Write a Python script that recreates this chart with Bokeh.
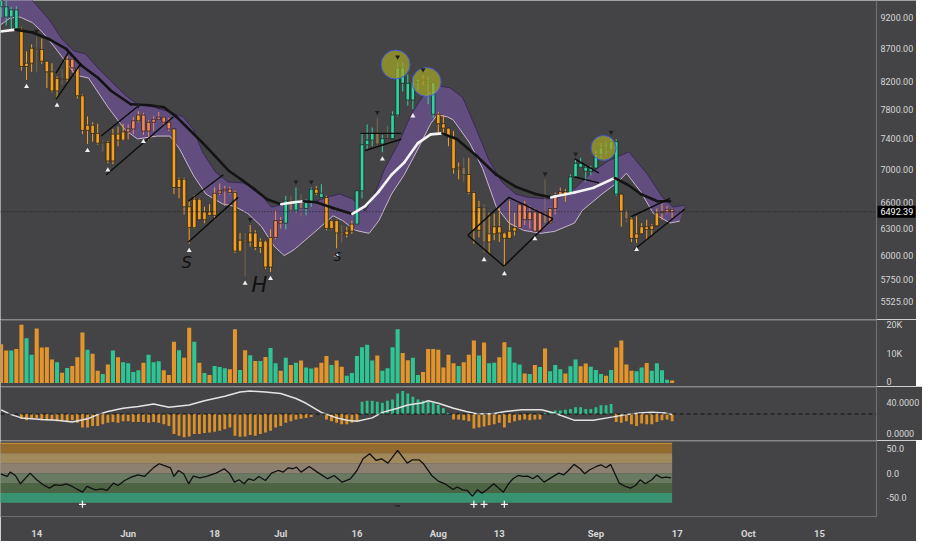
from bokeh.plotting import figure
from bokeh.layouts import column
from bokeh.models import Range1d, FixedTicker, Span
from bokeh.embed import file_html
from bokeh.resources import INLINE
from bokeh.core.properties import value

# ---------------- data ----------------
days = list(range(-7, 126))          # day index, 0 = 14 May 2018
opens = [9650, 9370, 9200, 9320, 9010, 8420, 8470, 8700, 8680, 8500, 8340, 8060, 8240, 8230, 8530, 8400, 7990, 7510, 7580, 7470,
         7340, 7350, 7110, 7460, 7380, 7490, 7530, 7640, 7720, 7500, 7620, 7660, 7690, 7620, 7530, 6780, 6880, 6550, 6310, 6640,
         6400, 6490, 6450, 6710, 6740, 6760, 6720, 6050, 6170, 6150, 6250, 6090, 6160, 5880, 6200, 6390, 6360, 6620, 6510, 6600,
         6530, 6600, 6760, 6710, 6660, 6300, 6390, 6250, 6230, 6270, 6350, 6740, 7320, 7380, 7470, 7330, 7400, 7400, 7720, 8400,
         8170, 7930, 8190, 8230, 8210, 8180, 7730, 7600, 7540, 7420, 7010, 7030, 6940, 6720, 6280, 6540, 6150, 6240, 6320, 6250,
         6190, 6270, 6310, 6580, 6400, 6490, 6270, 6480, 6360, 6530, 6690, 6730, 6700, 6910, 7080, 7030, 6980, 7020, 7190, 7280,
         7260, 7360, 6700, 6500, 6410, 6190, 6240, 6320, 6290, 6330, 6480, 6490, 6520]
highs = [9700, 9470, 9370, 9380, 9030, 8650, 8760, 8880, 8850, 8500, 8470, 8270, 8380, 8580, 8560, 8400, 8010, 7700, 7620, 7600,
         7380, 7370, 7530, 7560, 7600, 7590, 7690, 7770, 7750, 7650, 7700, 7760, 7700, 7680, 7530, 6900, 6900, 6630, 6690, 6650,
         6550, 6580, 6780, 6830, 6800, 6790, 6740, 6250, 6250, 6340, 6280, 6190, 6170, 6290, 6500, 6430, 6680, 6680, 6780, 6700,
         6640, 6780, 6800, 6820, 6680, 6400, 6400, 6340, 6320, 6390, 6740, 7480, 7590, 7550, 7680, 7450, 7570, 7770, 8480, 8480,
         8300, 8260, 8230, 8290, 8270, 8180, 7760, 7720, 7540, 7500, 7090, 7150, 7150, 6730, 6620, 6580, 6480, 6470, 6540, 6260,
         6620, 6480, 6580, 6620, 6560, 6530, 6500, 6880, 6540, 6720, 6780, 6760, 6940, 7130, 7150, 7050, 7050, 7240, 7340, 7350,
         7410, 7390, 6700, 6520, 6440, 6440, 6360, 6400, 6350, 6530, 6590, 6560, 6530]
lows = [9200, 9060, 8980, 9000, 8360, 8220, 8340, 8330, 8460, 8100, 8040, 7950, 8150, 8180, 8330, 7950, 7460, 7330, 7360, 7320,
        7230, 7080, 7070, 7300, 7370, 7390, 7460, 7620, 7450, 7380, 7500, 7650, 7570, 7500, 6700, 6650, 6460, 6130, 6300, 6400,
        6360, 6440, 6400, 6690, 6560, 6700, 6030, 6040, 5780, 6100, 6060, 6030, 5860, 5830, 6180, 6300, 6290, 6480, 6480, 6440,
        6450, 6550, 6690, 6650, 6280, 6290, 6080, 6140, 6200, 6240, 6340, 6650, 7250, 7300, 7280, 7220, 7380, 7400, 7700, 8050,
        7850, 7800, 8070, 8140, 7870, 7680, 7460, 7480, 7300, 6950, 6880, 6850, 6700, 6130, 6200, 6030, 6020, 6170, 6150, 5880,
        6190, 6220, 6300, 6340, 6300, 6260, 6270, 6300, 6350, 6460, 6680, 6610, 6690, 6900, 7020, 6850, 6930, 7020, 7140, 7200,
        7240, 6680, 6320, 6370, 6150, 6140, 6240, 6170, 6220, 6330, 6400, 6470, 6420]
closes = [9370, 9200, 9320, 9010, 8420, 8470, 8700, 8680, 8500, 8340, 8060, 8240, 8230, 8530, 8400, 7990, 7510, 7580, 7470, 7340,
          7350, 7110, 7460, 7380, 7490, 7530, 7640, 7720, 7500, 7620, 7660, 7690, 7620, 7530, 6780, 6880, 6550, 6310, 6640, 6400,
          6490, 6450, 6710, 6740, 6760, 6720, 6050, 6170, 6150, 6250, 6090, 6160, 5880, 6200, 6390, 6360, 6620, 6510, 6600, 6530,
          6600, 6760, 6710, 6660, 6300, 6390, 6250, 6230, 6270, 6350, 6740, 7320, 7380, 7470, 7330, 7400, 7400, 7720, 8400, 8170,
          7930, 8190, 8230, 8210, 8180, 7730, 7600, 7540, 7420, 7010, 7030, 6940, 6720, 6280, 6540, 6150, 6240, 6320, 6250, 6190,
          6270, 6310, 6580, 6400, 6490, 6270, 6480, 6360, 6530, 6690, 6730, 6700, 6910, 7080, 7030, 6980, 7020, 7190, 7280, 7260,
          7360, 6700, 6500, 6410, 6190, 6240, 6320, 6290, 6330, 6480, 6490, 6520, 6492.39]
# candle colour state: g = bull, o = bear, s = neutral, d = faded
regime = ("gggg" + "ooodoooodosooooodoooo" + "ssossssss" + "ooooooooo" + "sss" + "oodooooo" + "ss" + "gdgdggog"
          + "ooodoo" + "ggggdgdggggggogg" + "ooooodooodoooooo" + "sssssdssso" + "gggggggggg" + "odoooooosss")
volume_k = [13.4, 11.2, 11.2, 11.8, 20.2, 15.5, 9.8, 18.9, 12.3, 12.4, 8.1, 7.2, 3.5, 5.2, 5.9, 8.9, 17.5, 11.5, 10.1, 4.2,
            3.1, 6.4, 11.2, 8.9, 7.2, 6.8, 3.8, 4.4, 7.0, 9.8, 7.2, 7.5, 4.4, 2.7, 14.3, 11.3, 8.7, 19.1, 14.3, 7.0,
            3.4, 2.7, 5.9, 5.5, 5.1, 4.7, 18.6, 4.5, 11.3, 9.6, 7.6, 7.6, 9.0, 12.1, 6.8, 4.2, 8.7, 6.2, 7.0, 7.8,
            5.3, 5.0, 5.3, 7.0, 9.3, 6.2, 7.8, 5.6, 2.5, 3.4, 9.3, 12.4, 13.2, 7.8, 9.5, 4.2, 5.1, 12.4, 18.6, 10.4,
            7.9, 8.7, 2.7, 3.8, 11.8, 11.8, 11.5, 5.3, 9.8, 6.8, 5.9, 7.2, 9.8, 14.7, 9.5, 14.0, 6.8, 7.0, 8.9, 14.1,
            12.4, 7.0, 6.4, 3.3, 3.1, 6.2, 5.5, 11.9, 4.0, 6.2, 4.7, 3.3, 5.8, 8.1, 5.8, 6.7, 5.6, 4.5, 3.1, 2.5,
            4.5, 12.3, 14.7, 6.4, 4.2, 4.0, 5.3, 6.9, 4.2, 6.8, 4.4, 1.1, 0.8]
osc_hist = [25, 25, 25, 25, 18.8, 17.1, 18.8, 20, 17.1, 17.1, 17.1, 15.8, 15.8, 15.8, 17.1, 13.8, 7.5, 7.5, 9.6, 9.6,
            11.7, 13.8, 14.6, 13.8, 15.8, 15.8, 14.6, 14.6, 14.6, 13.8, 14.6, 13.8, 11.7, 9.6, -0.8, -2.9, -5, -3.8, -0.8, -0.8,
            0.4, 1.3, 2.1, 3.3, 5.4, 7.5, -2.9, -4.2, -3.8, -2.1, -2.9, -0.8, 1.3, 3.3, 7.5, 9.6, 13.8, 15.8, 17.9, 18.8,
            20, 21.3, 25, 25, 17.9, 15.8, 13.8, 11.7, 11.7, 13.8, 15.8, 40.8, 42.1, 42.1, 40.8, 39.6, 42.1, 43.8, 51.3, 54.6,
            51.3, 47.1, 43.8, 42.1, 40.8, 39.6, 36.7, 32.5, 26.3, 17.9, 17.9, 17.1, 15.8, 6.3, 7.5, 8.8, 10.4, 11.7, 13.8, 7.5,
            13.8, 15.8, 17.1, 17.9, 17.1, 17.9, 17.9, 26, 27.1, 29.6, 29.6, 30.4, 31.3, 33.8, 33.8, 31.3, 31.3, 33.8, 36.3, 36.3,
            37.9, 14.6, 13.8, 15.8, 11.7, 9.6, 12.9, 11.7, 11.7, 14.6, 17.1, 17.9, 15.8]
osc_base = 25
osc_day = [-7, -5, -3, 1, 4, 7, 10, 12, 14, 17, 20, 23, 26, 30, 33, 37, 40, 42, 45, 48, 51, 53, 56, 59, 61, 63, 66, 68, 71, 73,
           76, 77, 79, 82, 84.5, 86.5, 89.7, 92.2, 95.4, 99.3, 101.8, 105.7, 109.5, 113.4, 115.9, 118.5, 121, 123.6, 125]
osc_line = [30.4, 24.2, 20, 17.9, 17.1, 14.6, 18.8, 24.2, 28.3, 32.5, 34.6, 37.9, 33.8, 36.7, 42.1, 47.9, 53.3, 54.6, 53.3, 51.3,
            45, 38.8, 27.1, 20, 17.1, 15.8, 20, 27.1, 32.5, 36.7, 39.6, 42.1, 38.8, 32.5, 28.3, 25.4, 25.4, 28.3, 30.4, 30.4,
            26.3, 17.1, 17.1, 21.3, 24.2, 26.3, 27.1, 26.3, 24.2]
cci_day = [-7.1, -5.8, -5.2, -4.2, -3.2, -1.3, 0.0, 1.2, 2.5, 3.5, 4.8, 5.8, 7.0, 9.0, 9.9, 11.5, 12.8, 13.8, 15.1, 16.0,
           17.3, 18.6, 19.9, 21.2, 23.1, 24.1, 25.0, 26.3, 27.0, 27.9, 28.9, 29.9, 30.8, 32.1, 33.4, 35.3, 36.9, 37.9, 38.9, 39.8,
           40.8, 41.7, 42.7, 43.7, 45.0, 46.2, 47.5, 48.5, 49.5, 50.4, 51.1, 52.0, 53.6, 55.2, 57.2, 58.5, 60.1, 61.7, 63.0, 64.2,
           65.5, 66.8, 67.8, 69.1, 70.0, 71.0, 72.0, 72.9, 73.9, 75.2, 76.1, 77.7, 79.0, 80.3, 81.9, 82.7, 83.8, 84.7, 85.7, 86.7,
           87.6, 88.6, 89.9, 90.8, 91.8, 92.8, 93.7, 94.7, 95.6, 96.6, 97.6, 98.5, 99.8, 101.7, 102.7, 103.7, 104.6, 105.7, 106.9, 107.8,
           108.8, 110.1, 111.0, 112.0, 112.9, 114.6, 115.8, 116.8, 117.8, 118.7, 119.7, 121.0, 121.9, 122.9, 123.8, 124.8]
cci_val = [-1.3, -6.7, 2.1, -4.7, -21.5, 0, -13.4, -22.9, -30.3, -23.6, -24.9, -21.5, -26.9, -38.4, -26.9, -33.7, -31.6, -35.0, -20.2, -24.9,
           -14.8, -8.1, -3.4, -6.7, 12.2, 19.0, 15.6, 10.9, -6.7, 5.4, -1.3, -21.5, -6.1, -9.4, -6.7, 0, 8.9, 0, -18.2, -13.4,
           -21.5, -11.4, -14.8, -6.7, -14.8, 0, 5.4, 2.1, 10.9, 8.9, 12.2, 2.1, 13.5, 2.1, -11.4, -4.7, -18.2, -11.4, 5.4, 29.0,
           39.2, 25.7, 29.0, 20.3, 32.4, 46.0, 32.4, 20.3, 27.0, 27.0, 19.0, -4.7, -16.1, -21.5, -33.0, -28.0, -33.7, -35.0, -46.5, -33.7,
           -40.4, -33.0, -21.5, -29.6, -38.4, -21.5, -11.4, -4.7, -6.7, -6.1, -11.4, -4.7, -18.2, -6.1, 0, -3.4, 5.4, 17.7, 8.9, -1.3,
           6.9, 13.5, 16.9, 10.9, 17.7, -20.2, -26.9, -30.3, -24.9, -13.4, -21.5, -13.4, -3.4, -9.4, -8.1, -9.4]
stripe_lo = [40, 20, 0, -20, -40, -60]
stripe_hi = [60, 40, 20, 0, -20, -40]
plus_day = [9, 86, 88, 92]
minus_day = [71]
signal_level = -63
# overlay lines on the price panel (day, price)
band_top_day = [-7.1, -4, -0.8, 2.5, 5.0, 7.3, 9.6, 12.1, 14.6, 17.3, 19.8, 23.1, 26.2, 28.8, 30.8, 32.7, 35.2, 37.7, 40.4, 42.9,
                46.2, 48.7, 51.2, 54.4, 56.9, 59.6, 62.1, 64.6, 66.5, 68.5, 71.2, 73.7, 76.2, 78.8, 81.3, 83.8, 86.5, 89.0, 91.5, 94.2,
                96.7, 100.6, 102.9, 106, 109.2, 112.5, 116.5, 120.2, 123.1, 125.2, 127.5]
band_top = [9950, 9700, 9476, 9152, 8840, 8658, 8612, 8391, 8204, 8007, 7869, 7828, 7761, 7694, 7522, 7215, 6968, 6848, 6837, 6778,
            6546, 6580, 6615, 6603, 6661, 6701, 6643, 6501, 6701, 7017, 7341, 7734, 8007, 8133, 8106, 7966, 7522, 7115, 6848, 6701,
            6661, 6643, 6661, 6777, 6968, 7115, 7227, 6937, 6661, 6546, 6570]
pink_day = [-7.1, -5.2, -3.3, -0.8, 1.2, 3.8, 7.7, 10.2, 14.0, 17.3, 19.8, 23.7, 26.2, 28.1, 30.8, 33.3, 36.5, 39.0, 41.5, 44.2,
            46.7, 48.7, 50.6, 54.4, 58.3, 60.2, 62.7, 65.4, 67.3, 69.8, 72.3, 75.0, 77.5, 78.8, 80.8, 81.9, 85.2, 87.7, 90.4, 92.9,
            95.8, 99.2, 101.9, 105.8, 107.3, 111.2, 114.4, 116.0, 118.8, 121.3, 124.6, 126.5]
pink = [9073, 9184, 9200, 9105, 8948, 8688, 8290, 8248, 7831, 7524, 7396, 7434, 7434, 7265, 6932, 6701, 6586, 6552, 6473, 6323,
        6104, 6002, 6065, 6246, 6445, 6389, 6279, 6246, 6389, 6701, 6937, 7265, 7600, 7721, 7694, 7655, 7341, 7017, 6552, 6362,
        6279, 6246, 6268, 6362, 6506, 6701, 6849, 6955, 6731, 6473, 6362, 6384]
ma_day = [-7.1, -4.2, -0.8, 2.5, 5.8, 8.8, 12.1, 14.6, 18.5, 22.3, 25, 27.5, 30, 32.7, 35.2, 37.7, 40.4, 42.9, 45.4, 48.1,
          50.6, 52.5, 55, 58.3, 62.1, 64.6, 67.3, 69.8, 72.3, 75, 77.5, 79.8, 82.7, 86.5, 90.4, 94.2, 98.1, 101.2, 101.9, 105.8,
          109.6, 113.7, 116.3, 118.8, 122.1, 124.6]
ma_price = [8965, 8995, 8948, 8840, 8688, 8435, 8248, 8062, 7869, 7855, 7828, 7694, 7522, 7341, 7165, 6990, 6872, 6754, 6637, 6580,
            6603, 6615, 6603, 6535, 6467, 6558, 6731, 6937, 7090, 7341, 7456, 7470, 7392, 7177, 6937, 6790, 6701, 6661, 6672, 6719,
            6778, 6896, 6813, 6701, 6615, 6615]
fractal_up_days = [-2, 4, 10, 14, 21, 30, 41, 46, 59, 68, 74, 88, 92, 98, 118]
fractal_down_days = [0, 20, 24, 42, 51, 54, 67, 71, 76, 100, 106, 113]
circle_day = [70.6, 76.7, 111.5]
circle_price = [8449, 8190, 7278]
trend_days = [[3.8, 6.3], [3.8, 8.7], [12.7, 20.4], [13.7, 26.9], [29.8, 36.7], [29.8, 39.6], [63.7, 71.7], [64.6, 71.7],
              [84.8, 92.9, 101.5, 91.9, 84.8], [105.8, 110.6], [105.8, 110.6], [116.9, 124.6], [117.5, 127.5]]
trend_prices = [[8320, 8643], [7938, 8465], [7434, 7869], [6937, 7696], [6615, 6937], [6146, 6661], [7470, 7470], [7244, 7392],
                [6225, 6661, 6412, 5889, 6225], [7140, 6957], [6909, 6837], [6434, 6650], [6065, 6524]]
letter_day = [29.5, 43.8, 59.2]
letter_price = [5930, 5690, 5985]
letter_text = ["S", "H", "S"]
last_price = 6492.39
price_ticks = [5525, 5750, 6000, 6300, 6600, 7000, 7400, 7800, 8200, 8700, 9200]
tick_days = [0, 18, 35, 48, 63, 79, 91, 110, 126, 140, 154]
tick_labels = ["14", "Jun", "18", "Jul", "16", "Aug", "13", "Sep", "17", "Oct", "15"]

n = len(days)
assert all(len(a) == n for a in (opens, highs, lows, closes, regime, volume_k, osc_hist)), \
    [len(a) for a in (opens, highs, lows, closes, regime, volume_k, osc_hist)]

# ---------------- style ----------------
BG = "#444446"
SEP = "#6e6e70"
TXT = "#d6d6d6"
FONT = "Roboto"
TEAL = "#2fd3a0"
ORANGE = "#f4a01e"
SALMON = "#f0865c"
DIM = "#b08a52"
FW = 876            # width of the data area
AXW = 40            # width of the price-scale strip
X0, X1 = -7.12, 165.2

xr = Range1d(X0, X1)


def make(fh, ylo, yhi, bottom_axis=False, **kw):
    p = figure(frame_width=FW, frame_height=fh, x_range=xr, y_range=Range1d(ylo, yhi),
               toolbar_location=None, output_backend="svg", y_axis_location="right",
               x_axis_location="below" if bottom_axis else None,
               min_border_left=0, min_border_right=AXW, min_border_top=0,
               min_border_bottom=18 if bottom_axis else 0,
               background_fill_color=BG, border_fill_color=BG,
               outline_line_color=None, **kw)
    p.grid.visible = False
    # panel separator along the top edge
    p.add_layout(Span(location=yhi, dimension="width", line_color=SEP, line_width=2.4))
    ax = p.yaxis[0]
    ax.axis_line_color = SEP
    ax.axis_line_width = 1.2
    ax.major_tick_line_color = None
    ax.minor_tick_line_color = None
    ax.major_label_text_color = TXT
    ax.major_label_text_font = FONT
    ax.major_label_text_font_size = "9px"
    ax.major_label_standoff = 4
    return p


# ---- price panel (its price scale strip is part of the plot area so that the
#      last-price badge can sit on the scale) ----
x_end_main = X1 + AXW * (X1 - X0) / FW
main = figure(frame_width=FW + AXW, frame_height=319, x_range=Range1d(X0, x_end_main),
              y_range=Range1d(5353, 9476), y_axis_type="log",
              toolbar_location=None, output_backend="svg",
              x_axis_location=None, y_axis_location=None,
              min_border_left=0, min_border_right=0, min_border_top=0, min_border_bottom=0,
              background_fill_color=BG, border_fill_color=BG, outline_line_color=None)
main.grid.visible = False

main.patch(band_top_day + pink_day[::-1], band_top + pink[::-1],
           fill_color="#66508a", fill_alpha=0.85, line_color=None)
main.line(band_top_day, band_top, line_color="#3a2856", line_width=1)
main.line(pink_day, pink, line_color="#c9b6cf", line_width=1)

cmap = {"g": TEAL, "o": ORANGE, "s": SALMON, "d": DIM}
amap = {"g": 1.0, "o": 1.0, "s": 1.0, "d": 0.5}
ccol = [cmap[r] for r in regime]
calp = [amap[r] for r in regime]
main.segment(x0=days, y0=lows, x1=days, y1=highs, line_color=ccol, line_alpha=calp, line_width=1)
main.vbar(x=days, top=[max(o, c) for o, c in zip(opens, closes)],
          bottom=[min(o, c) for o, c in zip(opens, closes)], width=0.7,
          fill_color=ccol, fill_alpha=calp, line_color="#1a1a1a", line_alpha=calp, line_width=0.7)

main.segment(x0=X0, y0=last_price, x1=X1, y1=last_price, line_color="#1c1c1c",
             line_dash="1 2", line_width=1)

seg_x = [[ma_day[i], ma_day[i + 1]] for i in range(len(ma_day) - 1)]
seg_y = [[ma_price[i], ma_price[i + 1]] for i in range(len(ma_day) - 1)]
seg_c = ["#f4f4f4" if ma_price[i + 1] > ma_price[i] else "#141414" for i in range(len(ma_day) - 1)]
main.multi_line(seg_x, seg_y, line_color=seg_c, line_width=2.6, line_cap="round")

main.multi_line(trend_days, trend_prices, line_color="#0c0c0c", line_width=1.4)

main.scatter(circle_day, circle_price, marker="circle", size=[29, 29, 25],
             fill_color="#a3a327", fill_alpha=0.72, line_color="#3f55d8", line_width=1)

main.scatter(fractal_up_days, [lows[d - days[0]] * 0.988 for d in fractal_up_days],
             marker="triangle", size=5, fill_color="#f0f0f0", line_color=None)
main.scatter(fractal_down_days, [highs[d - days[0]] * 1.01 for d in fractal_down_days],
             marker="inverted_triangle", size=5, fill_color="#202020", line_color=None)

main.text(letter_day, letter_price, text=letter_text, text_font=value("DejaVu Sans"),
          text_font_style="italic", text_font_size=["16px", "21px", "12px"], text_color="#101010",
          text_align="center", text_baseline="middle")

# price scale: axis line, tick labels, last-price badge
main.add_layout(Span(location=X1, dimension="height", line_color=SEP, line_width=1.2))
main.text([X1] * len(price_ticks), price_ticks, text=[f"{t:.2f}" for t in price_ticks],
          x_offset=4, text_font=value(FONT), text_font_size="9px", text_color=TXT,
          text_align="left", text_baseline="middle")
main.rect([X1 + (x_end_main - X1) / 2], [last_price], width=AXW - 2, height=12,
          width_units="screen", height_units="screen", fill_color="#000000", line_color=None)
main.text([X1], [last_price], text=[f"{last_price:.2f}"], x_offset=4,
          text_font=value(FONT), text_font_size="9px", text_color="#ffffff",
          text_align="left", text_baseline="middle")

# ---- volume panel ----
vol = make(67, -1250, 22000)
vol.yaxis.ticker = FixedTicker(ticks=[0, 10000, 20000])
vol.yaxis.major_label_overrides = {0: "0", 10000: "10K", 20000: "20K"}
vcol = ["#2fc494" if c >= o else "#e3952c" for o, c in zip(opens, closes)]
vol.vbar(x=days, top=[v * 1000 for v in volume_k], bottom=0, width=0.8, fill_color=vcol, line_color=None)

# ---- oscillator panel ----
osc = make(54, -9.1, 60.4)
osc.yaxis.ticker = FixedTicker(ticks=[0, 40])
osc.yaxis.major_label_overrides = {0: "0.0000", 40: "40.0000"}
hcol = ["#2cbf8c" if h > osc_base else "#dc9028" for h in osc_hist]
osc.vbar(x=days, top=osc_hist, bottom=osc_base, width=0.55, fill_color=hcol, line_color=None)
osc.add_layout(Span(location=osc_base, dimension="width", line_color="#111111", line_dash="4 3", line_width=1))
osc.line(osc_day, osc_line, line_color="#e4e4e4", line_width=1.5)

# ---- bottom oscillator panel ----
bot = make(76, -87.6, 66, bottom_axis=True)
bot.yaxis.ticker = FixedTicker(ticks=[-50, 0, 50])
bot.yaxis.major_label_overrides = {-50: "-50.0", 0: "0.0", 50: "50.0"}
stripe_colors = ["#946b2e", "#a08a5c", "#8e8070", "#6a7a62", "#4c6444", "#379372"]
bot.quad(left=days[0] - 0.5, right=days[-1], bottom=stripe_lo, top=stripe_hi,
         fill_color=stripe_colors, line_color=None)
bot.segment(x0=days[0] - 0.5, y0=stripe_hi[0], x1=days[-1], y1=stripe_hi[0], line_color="#c08a3a", line_width=1.3)
bot.line(cci_day, cci_val, line_color="#111111", line_width=1.3)
bot.scatter(plus_day, [signal_level] * len(plus_day), marker="cross", size=7, line_color="#f2f2f2", line_width=1.3)
bot.scatter(minus_day, [signal_level - 3] * len(minus_day), marker="dash", size=5, line_color="#202020", line_width=1.3)

xa = bot.xaxis[0]
xa.ticker = FixedTicker(ticks=tick_days)
xa.major_label_overrides = {d: t for d, t in zip(tick_days, tick_labels)}
xa.axis_line_color = SEP
xa.axis_line_width = 1.2
xa.major_tick_line_color = None
xa.minor_tick_line_color = None
xa.major_label_text_color = TXT
xa.major_label_text_font = FONT
xa.major_label_text_font_size = "9.5px"
xa.major_label_text_font_style = "bold"
xa.major_label_standoff = 5

layout = column(main, vol, osc, bot, spacing=0)
open("out.html", "w").write(file_html(layout, INLINE))
